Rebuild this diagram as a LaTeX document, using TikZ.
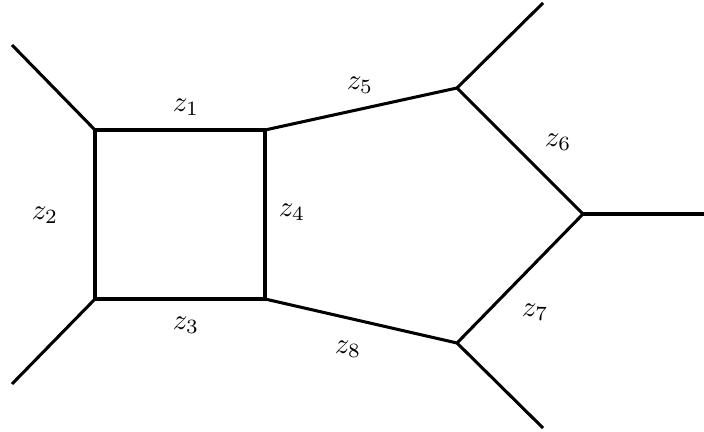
\documentclass[tikz,border=0pt]{standalone}
\begin{document}
\begin{tikzpicture}[x=0.345pt,y=-0.345pt,
  edge/.style={line width=1.05pt, line join=miter},
  lbl/.style={inner sep=0pt}]
\useasboundingbox (0,0) rectangle (704,432);
\coordinate (a) at (95,130);
\coordinate (b) at (265,130);
\coordinate (c) at (265,299);
\coordinate (d) at (95,299);
\coordinate (e) at (457,88);
\coordinate (f) at (583,214);
\coordinate (g) at (457,343);
\coordinate (la) at (12,45);
\coordinate (ld) at (12,384);
\coordinate (le) at (543,3);
\coordinate (lf) at (704,214);
\coordinate (lg) at (543,428);
\draw[edge] (a) -- (b) -- (c) -- (d) -- cycle;
\draw[edge] (b) -- (e) -- (f) -- (g) -- (c);
\draw[edge] (a) -- (la);
\draw[edge] (d) -- (ld);
\draw[edge] (e) -- (le);
\draw[edge] (f) -- (lf);
\draw[edge] (g) -- (lg);
\node[lbl] (n1) at (186,107) {$z_1$};
\node[lbl] (n2) at (45,215) {$z_2$};
\node[lbl] (n3) at (186,325) {$z_3$};
\node[lbl] (n4) at (292,212) {$z_4$};
\node[lbl] (n5) at (360,85) {$z_5$};
\node[lbl] (n6) at (558,142) {$z_6$};
\node[lbl] (n7) at (535,312) {$z_7$};
\node[lbl] (n8) at (348,349) {$z_8$};
\end{tikzpicture}
\end{document}
